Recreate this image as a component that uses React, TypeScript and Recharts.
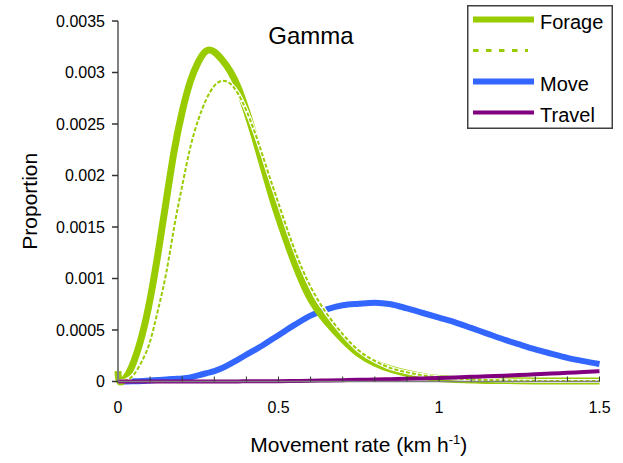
import React from "react";
import { LineChart, Line, XAxis, YAxis, Legend } from "recharts";

// movement rate (km/h)
const xs = [
  0, 0.005, 0.025, 0.05, 0.075, 0.1, 0.125, 0.15, 0.175, 0.2, 0.225, 0.25, 0.275, 0.3,
  0.325, 0.35, 0.375, 0.4, 0.425, 0.45, 0.475, 0.5, 0.55, 0.6, 0.65, 0.7, 0.75, 0.8,
  0.85, 0.9, 0.95, 1.0, 1.05, 1.1, 1.15, 1.2, 1.25, 1.3, 1.35, 1.4, 1.45, 1.5,
];

const forage = [
  0.0001, 0, 0.00004, 0.0002, 0.00045, 0.0008, 0.00125, 0.00175, 0.00224, 0.00262, 0.00291,
  0.0031, 0.00321, 0.0032, 0.00312, 0.00301, 0.00285, 0.00263, 0.00238, 0.00211, 0.00184,
  0.00159, 0.00115, 0.0008, 0.00058, 0.00041, 0.00027, 0.00018, 0.00012, 0.00008, 0.00005,
  0.00003, 0.00002, 0.000015, 0.00001, 0.00001, 0.000008, 0.000006, 0.000005, 0.000005,
  0.000004, 0.000004,
];

const forage2 = [
  0, 0, 0.00001, 0.00007, 0.0002, 0.00039, 0.0007, 0.00105, 0.0015, 0.0019, 0.00227,
  0.00254, 0.00274, 0.00287, 0.00292, 0.00289, 0.00279, 0.00263, 0.00243, 0.0022, 0.00196,
  0.00173, 0.00128, 0.00092, 0.00066, 0.00046, 0.0003, 0.0002, 0.00013, 0.00009, 0.00006,
  0.00004, 0.00003, 0.00002, 0.000015, 0.00001, 0.000008, 0.000006, 0.000005, 0.000005,
  0.000004, 0.000004,
];

const move = [
  0, 0, 0, 0.000002, 0.000005, 0.00001, 0.000014, 0.00002, 0.000025, 0.00003, 0.00004,
  0.00006, 0.00008, 0.0001, 0.00013, 0.00017, 0.000215, 0.00026, 0.000305, 0.00035, 0.0004,
  0.00045, 0.00055, 0.00064, 0.0007, 0.00074, 0.000755, 0.000765, 0.00075, 0.00071, 0.000665,
  0.00062, 0.000575, 0.00052, 0.000465, 0.00041, 0.00036, 0.000312, 0.00027, 0.00023,
  0.000198, 0.00017,
];

const travel = [
  0, 0, 0, 0, 0, 0, 0, 0, 0, 0, 0, 0, 0, 0, 0.000001, 0.000001, 0.000001, 0.000002,
  0.000002, 0.000002, 0.000003, 0.000003, 0.000005, 0.000007, 0.00001, 0.000013, 0.000016,
  0.00002, 0.000023, 0.000026, 0.00003, 0.000034, 0.00004, 0.000045, 0.00005, 0.000056,
  0.000063, 0.00007, 0.000077, 0.000085, 0.000092, 0.0001,
];

const xTicks = [0, 0.1, 0.2, 0.3, 0.4, 0.5, 0.6, 0.7, 0.8, 0.9, 1, 1.1, 1.2, 1.3, 1.4, 1.5];
const xLabels = [0, 0.5, 1, 1.5];
const yTicks = [0, 0.0005, 0.001, 0.0015, 0.002, 0.0025, 0.003, 0.0035];

const GREEN = "#99cc00";
const BLUE = "#3366ff";
const PURPLE = "#800080";

const legendNames = ["Forage", "", "Move", "Travel"];
const legendColors = [GREEN, GREEN, BLUE, PURPLE];
const legendWidths = [6, 3, 6, 4];
const legendDashes = [undefined, "5.5 7.5", undefined, undefined];

const data = xs.map((x, i) => ({
  x,
  forage: forage[i],
  forage2: forage2[i],
  move: move[i],
  travel: travel[i],
}));

const FONT = "'Liberation Sans', Arial, sans-serif";

const renderLegend = () => (
  <svg width={146} height={124} style={{ display: "block" }}>
    <rect x={0.75} y={0.75} width={144.5} height={122.5} fill="#fff" stroke="#404040" strokeWidth={1.5} />
    {legendNames.map((name, i) => {
      const ly = 14.5 + 31 * i;
      return (
        <g key={i}>
          <line
            x1={6}
            x2={name ? 67 : 61}
            y1={ly}
            y2={ly}
            stroke={legendColors[i]}
            strokeWidth={legendWidths[i]}
            strokeDasharray={legendDashes[i]}
          />
          {name && (
            <text x={73} y={ly + 9.5} fontSize={20} fill="#000" fontFamily={FONT}>
              {name}
            </text>
          )}
        </g>
      );
    })}
  </svg>
);

export default function App() {
  return (
    <div style={{ position: "absolute", left: 0, top: 0, width: 623, height: 463, background: "#fff", fontFamily: FONT }}>
      <div
        style={{
          position: "absolute",
          left: 0,
          width: 622,
          top: 24,
          textAlign: "center",
          fontSize: 24,
          lineHeight: "24px",
          zIndex: 2,
        }}
      >
        Gamma
      </div>
      <LineChart
        width={623}
        height={463}
        data={data}
        margin={{ top: 21, right: 23.5, bottom: 0, left: 0 }}
        style={{ fontFamily: FONT }}
      >
        <XAxis
          dataKey="x"
          type="number"
          domain={[0, 1.5]}
          ticks={xTicks}
          interval={0}
          height={81.5}
          tickSize={-5}
          tickMargin={25}
          tickFormatter={(v: number) => (xLabels.some((l) => Math.abs(l - v) < 1e-9) ? String(v) : "")}
          tick={{ fontSize: 16, fill: "#000" }}
          axisLine={{ stroke: "#808080", strokeWidth: 1.5 }}
          tickLine={{ stroke: "#333", strokeWidth: 1 }}
          label={{
            content: (p: any) => {
              const vb = p.viewBox;
              return (
                <text x={vb.x + vb.width / 2} y={vb.y + 70} textAnchor="middle" fontSize={21} fill="#000" fontFamily={FONT}>
                  Movement rate (km h<tspan dy={-8} fontSize={13}>-1</tspan>
                  <tspan dy={8}>)</tspan>
                </text>
              );
            },
          }}
        />
        <YAxis
          type="number"
          domain={[0, 0.0035]}
          ticks={yTicks}
          interval={0}
          width={118}
          tickSize={6}
          tickMargin={7}
          tick={{ fontSize: 16, fill: "#000" }}
          axisLine={{ stroke: "#808080", strokeWidth: 2 }}
          tickLine={{ stroke: "#333", strokeWidth: 1.5 }}
          label={{
            content: (p: any) => {
              const vb = p.viewBox;
              const cx = vb.x + 30;
              const cy = vb.y + vb.height / 2;
              return (
                <text
                  x={cx}
                  y={cy}
                  dy="0.35em"
                  transform={`rotate(-90, ${cx}, ${cy})`}
                  textAnchor="middle"
                  fontSize={21}
                  fill="#000"
                  fontFamily={FONT}
                >
                  Proportion
                </text>
              );
            },
          }}
        />
        <Line dataKey="move" type="monotone" stroke={BLUE} strokeWidth={6} dot={false} isAnimationActive={false} />
        <Line dataKey="forage" type="natural" stroke={GREEN} strokeWidth={7} dot={false} isAnimationActive={false} />
        <Line dataKey="forage2" type="natural" stroke="#fff" strokeWidth={4} dot={false} isAnimationActive={false} />
        <Line
          dataKey="forage2"
          type="natural"
          stroke={GREEN}
          strokeWidth={2}
          strokeDasharray="4 2"
          dot={false}
          isAnimationActive={false}
        />
        <Line dataKey="travel" type="monotone" stroke={PURPLE} strokeWidth={4} dot={false} isAnimationActive={false} />
        <Legend
          layout="vertical"
          align="center"
          verticalAlign="middle"
          content={renderLegend}
          wrapperStyle={{ position: "absolute", left: 467, top: 5, width: 146, height: 124 }}
        />
      </LineChart>
    </div>
  );
}
